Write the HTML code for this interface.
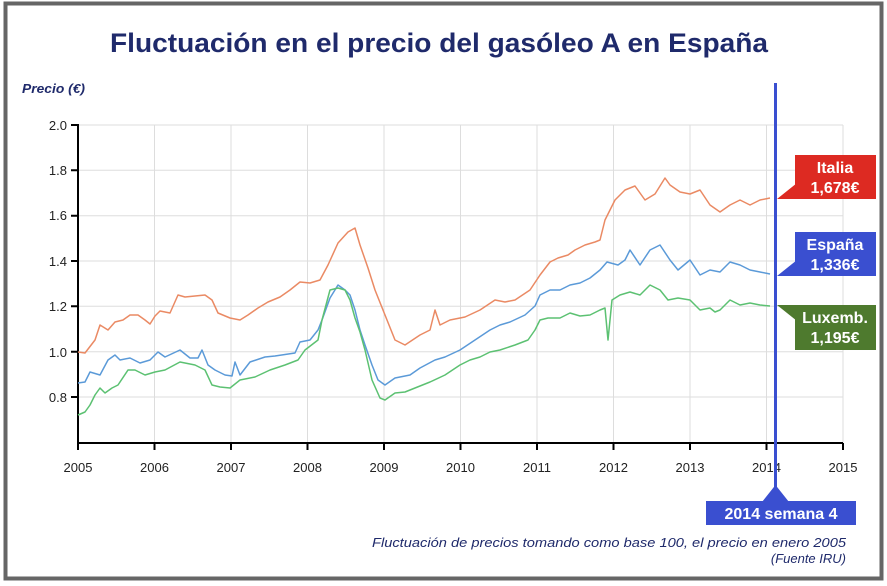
<!DOCTYPE html>
<html><head><meta charset="utf-8"><style>
html,body{margin:0;padding:0;background:#fff;}
body{width:887px;height:586px;overflow:hidden;position:relative;}
</style></head><body>
<svg width="887" height="586" viewBox="0 0 887 586" xmlns="http://www.w3.org/2000/svg" style="position:absolute;left:0;top:0">
<rect x="0" y="0" width="887" height="586" fill="#fff"/>
<rect x="5.5" y="3.5" width="876" height="575" fill="none" stroke="#666" stroke-width="4"/>
<text x="110" y="52" textLength="658" lengthAdjust="spacingAndGlyphs" font-family="Liberation Sans, sans-serif" font-size="27" font-weight="bold" fill="#1f2a6b">Fluctuación en el precio del gasóleo A en España</text>
<text x="22" y="93" textLength="63" lengthAdjust="spacingAndGlyphs" font-family="Liberation Sans, sans-serif" font-size="13" font-style="italic" font-weight="bold" fill="#1f2a6b">Precio (€)</text>
<g stroke="#ddd" stroke-width="1">
<line x1="78" y1="125" x2="843" y2="125"/><line x1="78" y1="170.3" x2="843" y2="170.3"/><line x1="78" y1="215.7" x2="843" y2="215.7"/><line x1="78" y1="261" x2="843" y2="261"/><line x1="78" y1="306.3" x2="843" y2="306.3"/><line x1="78" y1="351.7" x2="843" y2="351.7"/><line x1="78" y1="397" x2="843" y2="397"/>
<line x1="154.5" y1="125" x2="154.5" y2="443"/><line x1="231" y1="125" x2="231" y2="443"/><line x1="307.5" y1="125" x2="307.5" y2="443"/><line x1="384" y1="125" x2="384" y2="443"/><line x1="460.5" y1="125" x2="460.5" y2="443"/><line x1="537" y1="125" x2="537" y2="443"/><line x1="613.5" y1="125" x2="613.5" y2="443"/><line x1="690" y1="125" x2="690" y2="443"/><line x1="766.5" y1="125" x2="766.5" y2="443"/><line x1="843" y1="125" x2="843" y2="443"/>
</g>
<g stroke="#000" stroke-width="2" fill="none">
<path d="M78,124 V443 H843"/>
<path d="M71,125H78M71,170.3H78M71,215.7H78M71,261H78M71,306.3H78M71,351.7H78M71,397H78"/>
<path d="M78,443V450M154.5,443V450M231,443V450M307.5,443V450M384,443V450M460.5,443V450M537,443V450M613.5,443V450M690,443V450M766.5,443V450M843,443V450"/>
</g>
<g font-family="Liberation Sans, sans-serif" font-size="13" fill="#222" text-anchor="end">
<text x="67" y="130">2.0</text><text x="67" y="175">1.8</text><text x="67" y="220">1.6</text><text x="67" y="266">1.4</text><text x="67" y="311">1.2</text><text x="67" y="357">1.0</text><text x="67" y="402">0.8</text>
</g>
<g font-family="Liberation Sans, sans-serif" font-size="13" fill="#222" text-anchor="middle">
<text x="78" y="472">2005</text><text x="154.5" y="472">2006</text><text x="231" y="472">2007</text><text x="307.5" y="472">2008</text><text x="384" y="472">2009</text><text x="460.5" y="472">2010</text><text x="537" y="472">2011</text><text x="613.5" y="472">2012</text><text x="690" y="472">2013</text><text x="766.5" y="472">2014</text><text x="843" y="472">2015</text>
</g>
<g fill="none" stroke-width="1.5" stroke-linejoin="round">
<polyline stroke="#ea8a64" points="78,352 85,353 95,340 100,325 108,330 115,322 123,320 130,315 138,315 145,320 150,324 155,316 160,311 170,313 178,295 185,297 195,296 205,295 212,300 218,313 230,318 240,320 248,315 258,308 268,302 280,297 290,290 300,282 310,283 320,280 328,265 338,243 348,232 355,228 360,245 368,268 375,290 385,315 395,340 405,345 420,335 430,330 435,310 440,325 450,320 465,317 480,310 495,300 505,302 515,300 530,290 540,275 550,262 558,258 568,255 575,250 585,245 595,242 600,240 605,220 615,200 625,190 635,186 645,200 655,194 665,178 670,185 680,192 690,194 700,190 710,205 720,212 730,205 740,200 750,205 760,200 770,198"/>
<polyline stroke="#5b9ad8" points="78,383 85,382 90,372 100,375 108,360 115,355 120,360 130,358 140,363 150,360 158,352 165,357 180,350 190,358 198,358 202,350 208,365 215,370 225,375 232,376 235,362 240,375 250,362 265,357 275,356 295,353 300,342 310,340 318,330 322,320 330,298 338,285 345,290 350,295 355,310 360,330 365,345 372,365 378,380 385,385 395,378 410,375 420,368 435,360 445,357 460,350 475,340 490,330 500,325 510,322 525,315 535,306 540,295 550,290 560,290 570,285 580,283 590,278 600,270 607,262 618,265 625,260 630,250 640,265 650,250 660,245 670,260 678,270 690,260 700,275 710,270 720,272 730,262 740,265 750,270 760,272 770,274"/>
<polyline stroke="#5cc172" points="78,415 85,412 90,405 95,395 100,388 105,393 112,388 118,385 128,370 135,370 145,375 155,372 165,370 180,362 195,365 205,370 212,385 220,387 230,388 240,380 255,377 270,370 285,365 298,360 305,350 318,340 322,320 330,290 338,288 345,290 350,300 355,318 360,332 365,350 372,380 380,398 385,400 395,393 405,392 415,388 430,382 445,375 460,365 470,360 480,357 490,352 500,350 515,345 528,340 535,330 540,320 548,318 560,318 570,313 580,316 590,315 600,310 605,308 608,340 612,300 620,295 630,292 640,295 650,285 660,290 668,300 678,298 690,300 700,310 710,308 715,312 720,310 730,300 740,305 750,303 760,305 770,306"/>
</g>
<rect x="774" y="83" width="3" height="420" fill="#3a4fd0"/>
<polygon points="775.5,485 762,502 789,502" fill="#3a4fd0"/>
<rect x="706" y="501" width="150" height="24" fill="#3a4fd0"/>
<text x="781" y="519" text-anchor="middle" font-family="Liberation Sans, sans-serif" font-size="16" font-weight="bold" fill="#fff">2014 semana 4</text>
<g font-family="Liberation Sans, sans-serif" font-size="16" font-weight="bold" fill="#fff" text-anchor="middle">
<polygon points="777,199 797,183 797,199" fill="#dd2a22"/>
<rect x="795" y="155" width="81" height="44" fill="#dd2a22"/>
<text x="835" y="173">Italia</text><text x="835" y="193">1,678€</text>
<polygon points="777,276 797,260 797,276" fill="#3a4fd0"/>
<rect x="795" y="232" width="81" height="44" fill="#3a4fd0"/>
<text x="835" y="250">España</text><text x="835" y="270">1,336€</text>
<polygon points="777,305 797,305 797,321" fill="#4e7a2e"/>
<rect x="795" y="305" width="81" height="45" fill="#4e7a2e"/>
<text x="835" y="323">Luxemb.</text><text x="835" y="343">1,195€</text>
</g>
<g font-family="Liberation Sans, sans-serif" font-size="13" font-style="italic" fill="#1f2a6b">
<text x="372" y="547" textLength="474" lengthAdjust="spacingAndGlyphs">Fluctuación de precios tomando como base 100, el precio en enero 2005</text>
<text x="846" y="563" text-anchor="end">(Fuente IRU)</text>
</g>
</svg>
</body></html>
